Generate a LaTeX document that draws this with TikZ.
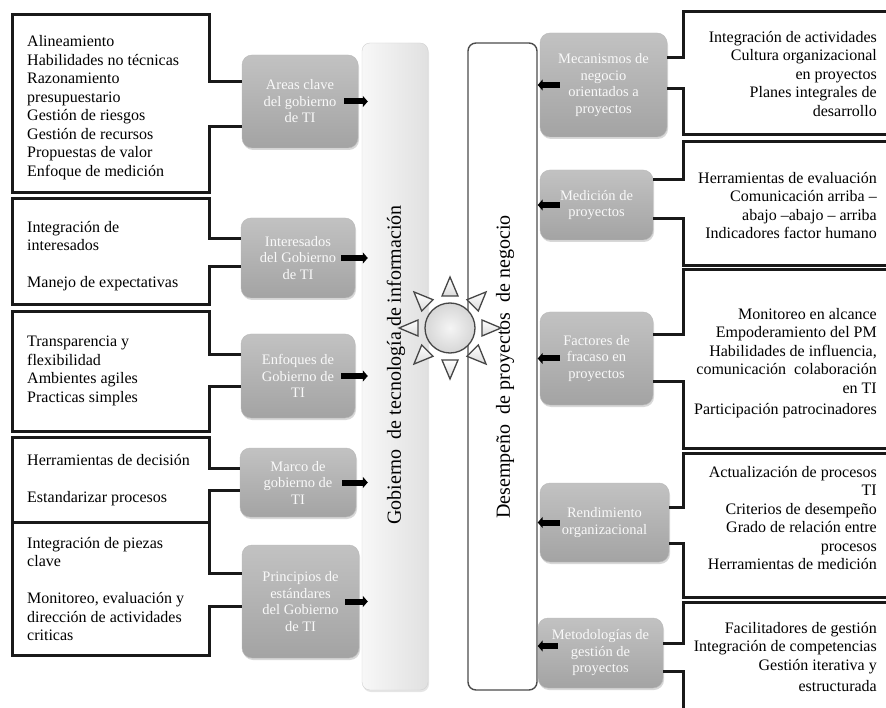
\documentclass[tikz,border=0pt]{standalone}
\usepackage{fontspec}
\setmainfont{Liberation Serif}
\usetikzlibrary{arrows.meta,shadows}

\begin{document}
\begin{tikzpicture}[x=1pt,y=-1pt]
\tikzstyle{every node}=[inner sep=0pt]
\tikzstyle{caja}=[line width=3pt, draw=black!90]
\tikzstyle{gris}=[rounded corners=10pt, top color=gray!48, bottom color=gray!72, draw=gray!55, text=gray!5, align=center, font=\fontsize{14.5}{16.5}\selectfont, drop shadow={opacity=0.3, shadow xshift=1pt, shadow yshift=-2pt}]
\tikzstyle{texto}=[font=\fontsize{16}{18.5}\selectfont]
\tikzstyle{titulo}=[rotate=90, font=\fontsize{20}{24}\selectfont]
\tikzstyle{flecha}=[line width=6pt, -{Triangle[length=5pt,width=11pt]}]
\tikzstyle{rayo}=[draw=gray!55!black, line width=1.3pt, top color=white, bottom color=gray!28]
\useasboundingbox (0,0) rectangle (886,708);
\clip (0,0) rectangle (886,708);
\fill[white] (0,0) rectangle (886,708);

% barras centrales
\draw (395,366.5) node (barL) [minimum width=66pt, minimum height=647pt, rounded corners=8pt, left color=gray!6, right color=gray!24, draw=gray!35, drop shadow={opacity=0.2, shadow xshift=1pt, shadow yshift=-2pt}] {};
\draw (502.5,366.5) node (barR) [minimum width=69pt, minimum height=647pt, rounded corners=8pt, fill=white, draw=black!70, line width=1.4pt] {};
\draw (396,365) node (tituloL) [titulo] {Gobierno\ \ de tecnología de información};
\draw (505,367) node (tituloR) [titulo] {Desempeño\ \ de proyectos\ \ de negocio};

% sol
\draw (450,328) node (sol) [circle, minimum size=50pt, draw=gray!55!black, line width=1.3pt, inner color=gray!8, outer color=gray!32] {};
\foreach \a in {0,45,...,315}
  \draw[rayo, shift={(sol.center)}, rotate=\a] (32,-8) -- (51,0) -- (32,8) -- cycle;

% nodos grises izquierda
\draw (300,101.5) node (gl1) [gris, minimum width=116pt, minimum height=93pt] {Areas clave\\del gobierno\\de TI};
\draw (298,258) node (gl2) [gris, minimum width=114pt, minimum height=80pt] {Interesados\\del Gobierno\\de TI};
\draw (298,376) node (gl3) [gris, minimum width=114pt, minimum height=84pt] {Enfoques de\\Gobierno de\\TI};
\draw (298,482.5) node (gl4) [gris, minimum width=116pt, minimum height=69pt] {Marco de\\gobierno de\\TI};
\draw (300.5,601.5) node (gl5) [gris, minimum width=117pt, minimum height=113pt] {Principios de\\estándares\\del Gobierno\\de TI};

% nodos grises derecha
\draw (603.5,85) node (gr1) [gris, minimum width=127pt, minimum height=104pt] {Mecanismos de\\negocio\\orientados a\\proyectos};
\draw (596.5,205) node (gr2) [gris, minimum width=113pt, minimum height=70pt] {Medición de\\proyectos};
\draw (596.5,358.5) node (gr3) [gris, minimum width=113pt, minimum height=93pt] {Factores de\\fracaso en\\proyectos};
\draw (604.5,522.5) node (gr4) [gris, minimum width=129pt, minimum height=79pt] {Rendimiento\\organizacional};
\draw (600.5,653) node (gr5) [gris, minimum width=125pt, minimum height=70pt] {Metodologías de\\gestión de\\proyectos};

% flechas
\foreach \n in {1,...,5}
  \draw[flecha] ([xshift=-14pt]gl\n.east) -- ([xshift=6pt]gl\n.east -| barL.west);
\foreach \n in {1,...,4}
  \draw[flecha] ([xshift=20pt]gr\n.west) -- (gr\n.west -| barR.east);
\draw[flecha] ([xshift=20pt,yshift=7pt]gr5.west) -- ([yshift=7pt]gr5.west -| barR.east);

% cajas izquierda
\draw[caja] (gl1.west |- 0,82) -- (209,82) |- (12,15) |- (209,193) -- (209,127) -- (gl1.west |- 0,127);
\draw[caja] (gl2.west |- 0,239) -- (209,239) |- (12,199) |- (209,305) -- (209,267) -- (gl2.west |- 0,267);
\draw[caja] (gl3.west |- 0,355) -- (209,355) |- (12,312) |- (209,431) -- (209,387) -- (gl3.west |- 0,387);
\draw[caja] (gl4.west |- 0,468) -- (209,468) |- (12,437) |- (209,522) -- (209,490) -- (gl4.west |- 0,490);
\draw[caja] (gl5.west |- 0,573) -- (209,573) |- (12,522) |- (209,655) -- (209,606) -- (gl5.west |- 0,606);

% cajas derecha
\draw[caja] (gr1.east |- 0,58) -- (683,58) |- (892,12);
\draw[caja] (gr1.east |- 0,89) -- (683,89) |- (892,135);
\draw[caja] (gr2.east |- 0,180) -- (683,180) |- (892,142);
\draw[caja] (gr2.east |- 0,219) -- (683,219) |- (892,266);
\draw[caja] (gr3.east |- 0,335) -- (683,335) |- (892,270);
\draw[caja] (gr3.east |- 0,382) -- (683,382) |- (892,448);
\draw[caja] (gr4.east |- 0,507) -- (683,507) |- (892,453);
\draw[caja] (gr4.east |- 0,543) -- (683,543) |- (892,597);
\draw[caja] (gr5.east |- 0,643) -- (683,643) |- (892,602);
\draw[caja] (gr5.east |- 0,671) -- (683,671) -- (683,720);

% textos izquierda
\draw (27,35.5) node (tl1) [texto, anchor=north west, align=left] {Alineamiento\\Habilidades no técnicas\\Razonamiento\\presupuestario\\Gestión de riesgos\\Gestión de recursos\\Propuestas de valor\\Enfoque de medición};
\draw (27,221) node (tl2) [texto, anchor=north west, align=left] {Integración de\\interesados\\[18.5pt]Manejo de expectativas};
\draw (27,336) node (tl3) [texto, anchor=north west, align=left] {Transparencia y\\flexibilidad\\Ambientes agiles\\Practicas simples};
\draw (27,454) node (tl4) [texto, anchor=north west, align=left] {Herramientas de decisión\\[18.5pt]Estandarizar procesos};
\draw (27,537) node (tl5) [texto, anchor=north west, align=left] {Integración de piezas\\clave\\[18.5pt]Monitoreo, evaluación y\\dirección de actividades\\criticas};

% textos derecha
\draw (877,31) node (tr1) [texto, anchor=north east, align=right] {Integración de actividades\\Cultura organizacional\\en proyectos\\Planes integrales de\\desarrollo};
\draw (877,172) node (tr2) [texto, anchor=north east, align=right] {Herramientas de evaluación\\Comunicación arriba –\\abajo –abajo – arriba\\Indicadores factor humano};
\draw (877,308) node (tr3) [texto, anchor=north east, align=right] {Monitoreo en alcance\\Empoderamiento del PM\\Habilidades de influencia,\\comunicación\ \ colaboración\\en TI\\[3pt]Participación patrocinadores};
\draw (877,466) node (tr4) [texto, anchor=north east, align=right] {Actualización de procesos\\TI\\Criterios de desempeño\\Grado de relación entre\\procesos\\Herramientas de medición};
\draw (877,622) node (tr5) [texto, anchor=north east, align=right] {Facilitadores de gestión\\Integración de competencias\\Gestión iterativa y\\[3pt]estructurada};
\end{tikzpicture}
\end{document}
